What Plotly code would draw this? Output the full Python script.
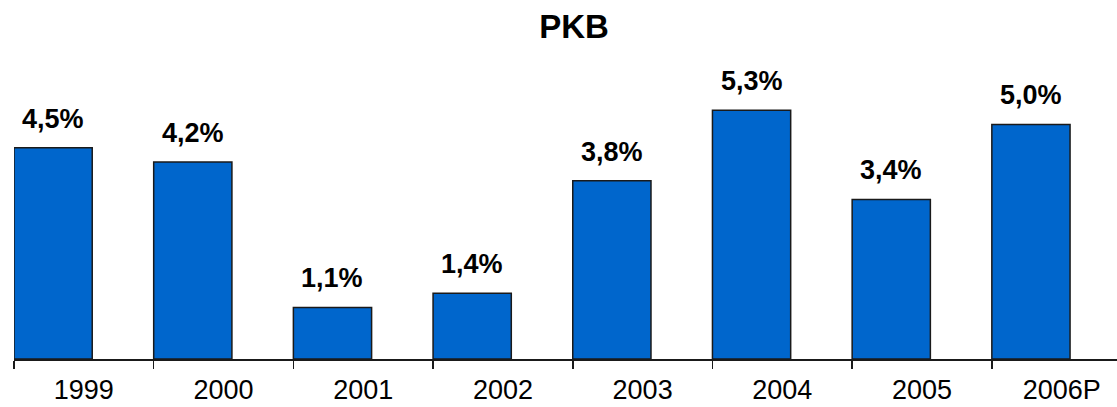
import plotly.graph_objects as go

years = ["1999", "2000", "2001", "2002", "2003", "2004", "2005", "2006P"]
growth = [4.5, 4.2, 1.1, 1.4, 3.8, 5.3, 3.4, 5.0]
labels = [f"{v:.1f}".replace(".", ",") + "%" for v in growth]

BAR_W = 0.56
BAR_OFF = -0.5

fig = go.Figure(
    go.Bar(
        x=years,
        y=growth,
        width=BAR_W,
        offset=BAR_OFF,
        marker=dict(color="#0066CC", line=dict(color="#1a1a1a", width=1.5)),
        hoverinfo="skip",
    )
)

slot_px = 1103 / 7.896
for i, (v, t) in enumerate(zip(growth, labels)):
    fig.add_annotation(
        x=i, y=v, text=f"<b>{t}</b>", showarrow=False,
        yanchor="bottom", yshift=12,
        xshift=(BAR_OFF + BAR_W / 2) * slot_px,
        font=dict(family="Liberation Sans, Arial, sans-serif", size=27, color="#000000"),
    )

fig.update_layout(
    width=1117, height=407,
    margin=dict(l=14, r=0, t=54, b=48, autoexpand=False),
    paper_bgcolor="white", plot_bgcolor="white",
    showlegend=False,
    title=dict(
        text="<b>PKB</b>", x=0.514, xref="container", xanchor="center",
        y=0.935, yanchor="middle",
        font=dict(family="Liberation Sans, Arial, sans-serif", size=33, color="#000000"),
    ),
    xaxis=dict(
        type="category", range=[-0.5, 7.396], automargin=False,
        showline=True, linecolor="#1a1a1a", linewidth=1.5,
        ticks="outside", tickson="boundaries", ticklen=8, tickwidth=1.5, tickcolor="#1a1a1a",
        ticklabelstandoff=6,
        showgrid=False, zeroline=False,
        tickfont=dict(family="Liberation Sans, Arial, sans-serif", size=27, color="#000000"),
    ),
    yaxis=dict(range=[0, 6.5], visible=False, showgrid=False, zeroline=False, automargin=False),
)

fig.write_html(
    "out.html",
    config={"displayModeBar": False, "staticPlot": True},
    post_script="document.body.style.margin='0';document.body.style.overflow='hidden';",
)
